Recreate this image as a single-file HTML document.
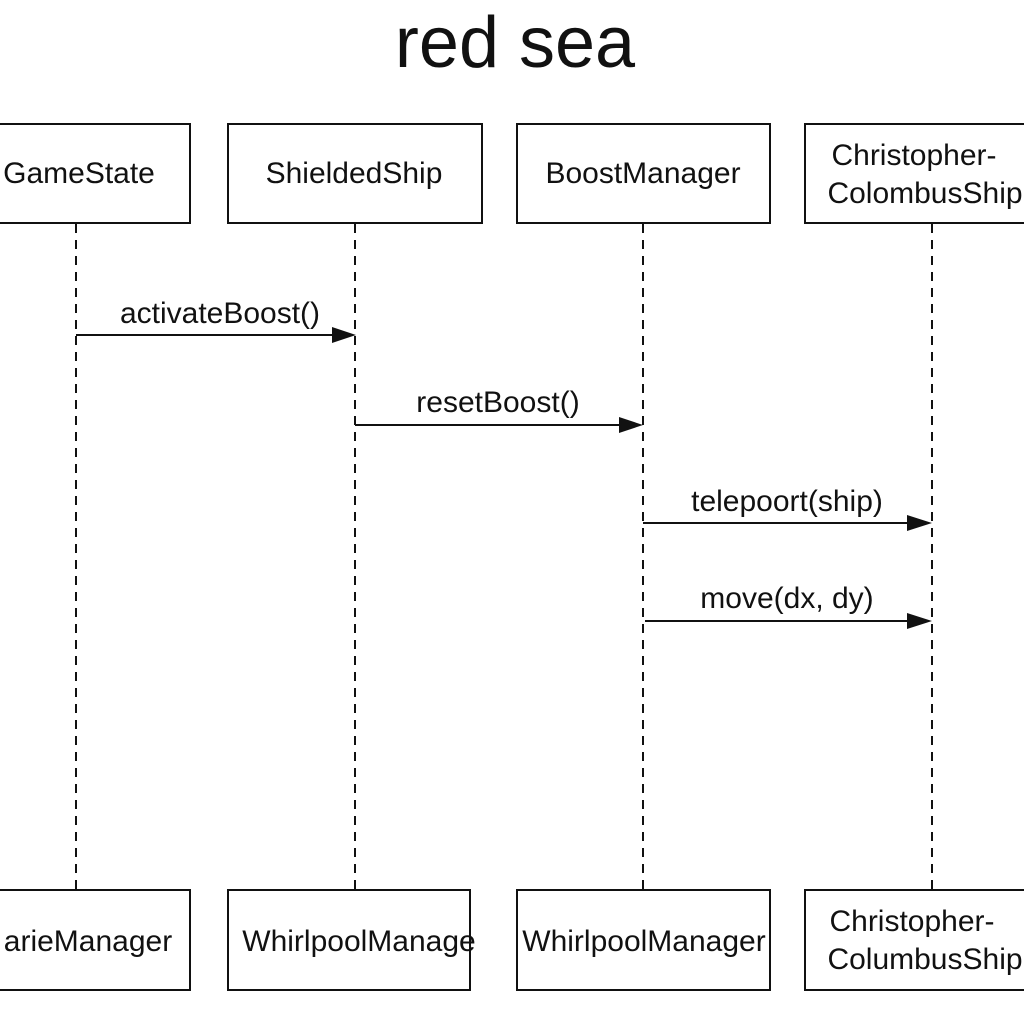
<!DOCTYPE html>
<html><head><meta charset="utf-8"><style>
html,body{margin:0;padding:0;background:#fff;}
svg{display:block;}
text{font-family:"Liberation Sans",Arial,sans-serif;fill:#111;}
</style></head><body>
<svg width="1024" height="1024" viewBox="0 0 1024 1024" xmlns="http://www.w3.org/2000/svg">
<text x="515" y="67" font-size="72" text-anchor="middle">red sea</text>
<g fill="none" stroke="#111" stroke-width="2" stroke-dasharray="9,7">
<line x1="76" y1="224" x2="76" y2="890"/>
<line x1="355" y1="224" x2="355" y2="890"/>
<line x1="643" y1="224" x2="643" y2="890"/>
<line x1="932" y1="224" x2="932" y2="890"/>
</g>
<g fill="#fff" stroke="#111" stroke-width="2">
<rect x="-5" y="124" width="195" height="99"/>
<rect x="228" y="124" width="254" height="99"/>
<rect x="517" y="124" width="253" height="99"/>
<rect x="805" y="124" width="230" height="99"/>
<rect x="-5" y="890" width="195" height="100"/>
<rect x="228" y="890" width="242" height="100"/>
<rect x="517" y="890" width="253" height="100"/>
<rect x="805" y="890" width="230" height="100"/>
</g>
<g font-size="30" text-anchor="middle">
<text x="79" y="183">GameState</text>
<text x="354" y="183">ShieldedShip</text>
<text x="643" y="183">BoostManager</text>
<text x="914" y="165">Christopher-</text>
<text x="925" y="203">ColombusShip</text>
<text x="88" y="951">arieManager</text>
<text x="359" y="951">WhirlpoolManage</text>
<text x="644" y="951">WhirlpoolManager</text>
<text x="912" y="931">Christopher-</text>
<text x="925" y="969">ColumbusShip</text>
</g>
<g stroke="#111" stroke-width="2">
<line x1="76" y1="335" x2="335" y2="335"/>
<line x1="355" y1="425" x2="622" y2="425"/>
<line x1="643" y1="523" x2="910" y2="523"/>
<line x1="645" y1="621" x2="910" y2="621"/>
</g>
<g fill="#111">
<polygon points="332,327 356,335 332,343"/>
<polygon points="619,417 643,425 619,433"/>
<polygon points="907,515 932,523 907,531"/>
<polygon points="907,613 932,621 907,629"/>
</g>
<g font-size="30" text-anchor="middle">
<text x="220" y="323">activateBoost()</text>
<text x="498" y="412">resetBoost()</text>
<text x="787" y="511">telepoort(ship)</text>
<text x="787" y="608">move(dx, dy)</text>
</g>
</svg>
</body></html>
